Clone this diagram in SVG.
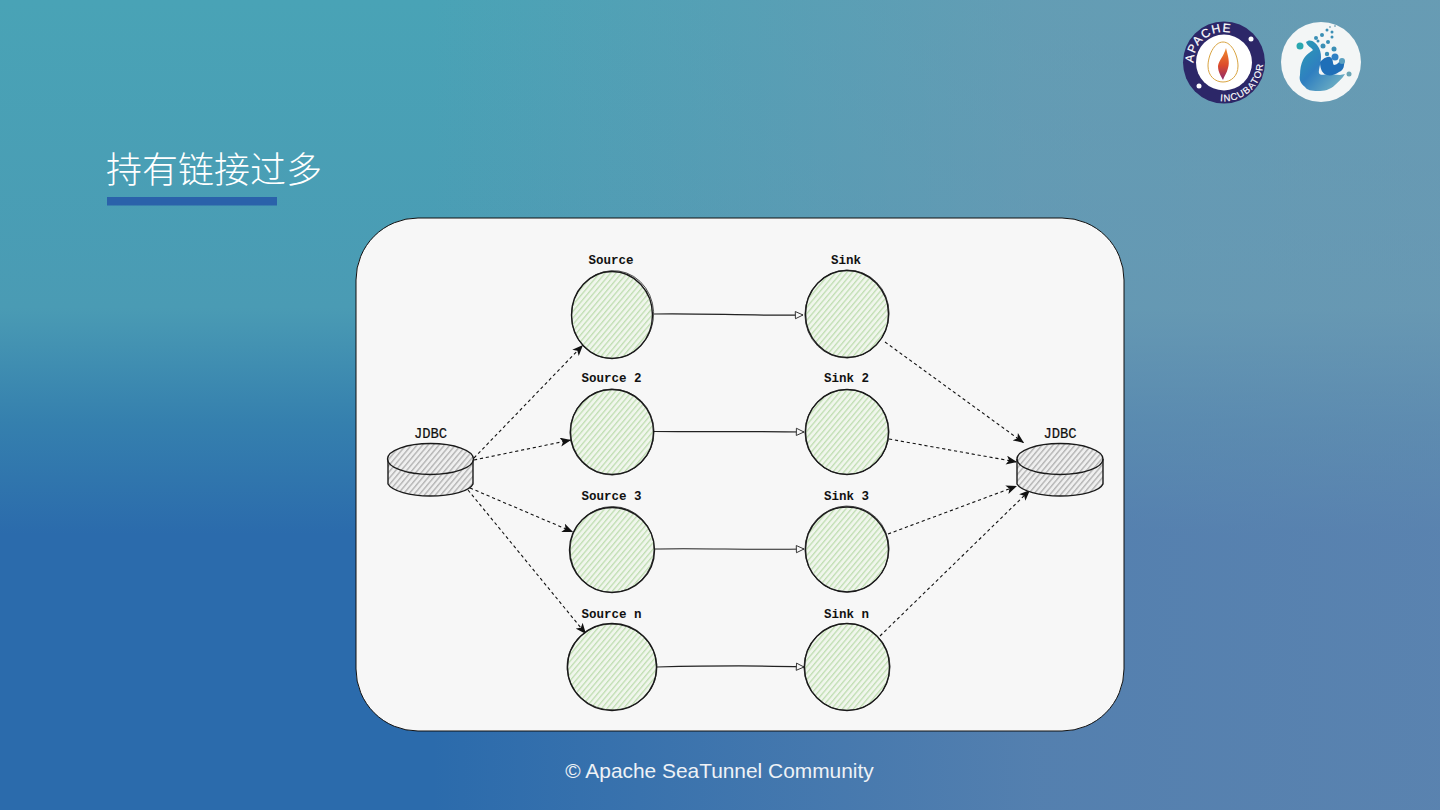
<svg xmlns="http://www.w3.org/2000/svg" width="1440" height="810" viewBox="0 0 1440 810">
<style>
.lbl{font-family:"Liberation Mono",monospace;font-size:12.5px;font-weight:700;fill:#111;text-anchor:middle}
.db{font-family:"Liberation Mono",monospace;font-size:13.800px;fill:#111;stroke:#111;stroke-width:.2;text-anchor:middle}
.o{fill:none;stroke:#1a1a1a;stroke-width:1.4}
.o2{fill:none;stroke:#1a1a1a;stroke-width:.7}
.g{fill:url(#green)}
.h{fill:url(#grey)}
.d{fill:none;stroke:#111;stroke-width:1.1;stroke-dasharray:3.2 2.8;marker-end:url(#solid)}
.s{fill:none;stroke:#222;stroke-width:1.2;marker-end:url(#open)}
</style>
<defs>
<linearGradient id="bgv" x1="0" y1="0" x2="0" y2="1">
<stop offset="0" stop-color="#49a3b6"/><stop offset=".38" stop-color="#4a9bb4"/><stop offset=".52" stop-color="#3580ae"/><stop offset=".66" stop-color="#2b6bac"/><stop offset="1" stop-color="#2b6bac"/>
</linearGradient>
<linearGradient id="bgh" x1="0" y1="0" x2="1" y2="0">
<stop offset=".3" stop-color="#8096b2" stop-opacity="0"/><stop offset=".72" stop-color="#8096b2" stop-opacity=".48"/><stop offset="1" stop-color="#8096b2" stop-opacity=".55"/>
</linearGradient>
<pattern id="green" width="4.200" height="4.200" patternUnits="userSpaceOnUse" patternTransform="rotate(-50)">
<rect width="4.200" height="4.200" fill="#f0f6ec"/><rect width="4.200" height="1.300" fill="#c0deb2"/>
</pattern>
<pattern id="grey" width="4.200" height="4.200" patternUnits="userSpaceOnUse" patternTransform="rotate(-50)">
<rect width="4.200" height="4.200" fill="#efefef"/><rect width="4.200" height="1.400" fill="#b4b4b4"/>
</pattern>
<marker id="solid" viewBox="0 0 12 10" markerWidth="11" markerHeight="9" refX="12" refY="5" orient="auto" markerUnits="userSpaceOnUse">
<path d="M0 0L12 5L0 10L3 5Z" fill="#111"/>
</marker>
<marker id="open" viewBox="0 0 10 10" markerWidth="9" markerHeight="9" refX="9.500" refY="5" orient="auto" markerUnits="userSpaceOnUse">
<path d="M1 1L9.500 5L1 9Z" fill="#f7f7f7" stroke="#222" stroke-width="1"/>
</marker>
<path id="arcTop" d="M1193.500 63A30.500 30.500 0 0 1 1240 36.500"/>
<path id="arcBot" d="M1220 101A38.500 38.500 0 0 0 1263 61"/>
<linearGradient id="fl" x1="0" y1="0" x2="0" y2="1"><stop offset="0" stop-color="#f08a2c"/><stop offset=".55" stop-color="#dc4a2c"/><stop offset="1" stop-color="#8e2a6e"/></linearGradient>
<linearGradient id="wave" x1="0" y1="0" x2="1" y2="1"><stop offset="0" stop-color="#2a9fb4"/><stop offset=".45" stop-color="#2f7fc0"/><stop offset="1" stop-color="#7fbcc4"/></linearGradient>
</defs>

<rect width="1440" height="810" fill="url(#bgv)"/>
<rect width="1440" height="810" fill="url(#bgh)"/>

<g id="logo-incubator">
<circle cx="1224" cy="62.500" r="41" fill="#2c2768"/>
<circle cx="1224" cy="62.500" r="28" fill="#fff"/>
<text font-family="'Liberation Sans',sans-serif" font-size="12" fill="#fff" stroke="#fff" stroke-width=".2" letter-spacing="1.200"><textPath href="#arcTop">APACHE</textPath></text>
<text font-family="'Liberation Sans',sans-serif" font-size="9.500" fill="#fff" stroke="#fff" stroke-width=".15" letter-spacing="1"><textPath href="#arcBot">INCUBATOR</textPath></text>
<circle cx="1251" cy="39" r="2.500" fill="#fff"/>
<circle cx="1199" cy="86" r="2.500" fill="#fff"/>
<path d="M1223 42C1214 42 1208 56 1208 66C1208 76 1215 82 1223 82C1231 82 1238 76 1238 66C1238 56 1232 42 1223 42Z" fill="none" stroke="#d9a441" stroke-width="1"/>
<path d="M1226 48C1228 56 1230 62 1228 68C1227 73 1224 76 1223 80C1221 76 1218 72 1218 66C1219 60 1224 56 1226 48Z" fill="url(#fl)"/>
</g>

<g id="logo-seatunnel">
<circle cx="1321" cy="62" r="40" fill="#f3f6f6"/>
<path d="M1306 42C1310 38 1316 42 1319 48C1323 56 1320 64 1319 70C1318 76 1322 75 1328 74L1340 75L1345 74C1342 79 1338 82 1335 85C1330 90 1324 91 1318 91C1311 91 1307 90 1305 87C1300 83 1299 79 1300 75C1300 69 1301 64 1303 60C1306 54 1311 52 1313 50C1311 47 1307 46 1306 42Z" fill="url(#wave)"/>
<path d="M1320 62C1323 59 1327 56 1330 57C1334 59 1332 63 1334 65C1337 65 1339 62 1341 60C1344 59 1345 62 1344 65C1344 68 1342 71 1339 72C1335 75 1330 76 1327 75C1323 74 1320 70 1320 62Z" fill="#1f6fb8"/>
<g fill="#3a8fb5">
<circle cx="1300" cy="46" r="3.500" fill="#2aa8b0"/><circle cx="1335" cy="57" r="3.500" fill="#2f80c4"/><circle cx="1334" cy="49" r="2.500"/><circle cx="1327" cy="54" r="2.200"/><circle cx="1323" cy="46" r="2.500"/><circle cx="1328" cy="42" r="2"/><circle cx="1322" cy="35" r="2"/><circle cx="1316" cy="38" r="2"/><circle cx="1327" cy="30" r="1.500"/><circle cx="1332" cy="32" r="1.500"/><circle cx="1332" cy="37" r="1.500"/><circle cx="1318" cy="41" r="1.500"/><circle cx="1335" cy="26" r="1" fill="#8ab0c0"/><circle cx="1330" cy="27" r="1" fill="#8ab0c0"/><circle cx="1349" cy="74" r="2.500" fill="#6aa5b5"/><circle cx="1342" cy="61" r="3" fill="#5aa0c0"/>
</g>
</g>

<text x="106" y="183" font-family="'Noto Sans CJK SC',sans-serif" font-size="36" font-weight="300" fill="#fff">持有链接过多</text>
<rect x="107" y="197" width="170" height="8.500" fill="#2a62aa"/>

<rect id="panel" x="356" y="218" width="768" height="513" rx="62" ry="62" fill="#f7f7f7" stroke="#111" stroke-width="1"/>

<g id="connectors">
<path class="s" d="M654 314C700 313 750 316 803 315"/>
<path class="s" d="M654 431.500C700 432 750 431 804 432"/>
<path class="s" d="M654 549C700 548 750 550 804 549"/>
<path class="s" d="M657 667C700 666 750 665 804 667"/>
<path class="d" d="M474 458L583 345"/>
<path class="d" d="M474 460L571 440"/>
<path class="d" d="M470 488L573 532"/>
<path class="d" d="M468 490L586 634"/>
<path class="d" d="M885 342L1024 443"/>
<path class="d" d="M889 439L1017 462"/>
<path class="d" d="M888 534L1017 486"/>
<path class="d" d="M880 636L1030 490"/>
</g>

<g id="node-source1"><ellipse class="g" cx="612" cy="315" rx="40" ry="43"/><ellipse class="o" cx="612" cy="315" rx="40.500" ry="43.500"/><ellipse class="o2" cx="612.500" cy="314.500" rx="41" ry="44" transform="rotate(8 612 315)"/><text class="lbl" x="611" y="264">Source</text></g>
<g id="node-source2"><ellipse class="g" cx="612" cy="432" rx="41" ry="42"/><ellipse class="o" cx="612" cy="432" rx="41.500" ry="42.500"/><ellipse class="o2" cx="612" cy="432" rx="42" ry="43" transform="rotate(10 612 432)"/><text class="lbl" x="611.500" y="382">Source 2</text></g>
<g id="node-source3"><ellipse class="g" cx="612" cy="550" rx="42" ry="42"/><ellipse class="o" cx="612" cy="550" rx="42.500" ry="42.500"/><ellipse class="o2" cx="612" cy="549.500" rx="42" ry="43" transform="rotate(12 612 550)"/><text class="lbl" x="611.500" y="500">Source 3</text></g>
<g id="node-sourcen"><ellipse class="g" cx="612" cy="667" rx="44" ry="43"/><ellipse class="o" cx="612" cy="667" rx="44.500" ry="43.500"/><ellipse class="o2" cx="612" cy="667" rx="45" ry="43" transform="rotate(8 612 667)"/><text class="lbl" x="611.500" y="618">Source n</text></g>

<g id="node-sink1"><ellipse class="g" cx="847" cy="314" rx="41" ry="43"/><ellipse class="o" cx="847" cy="314" rx="41.500" ry="43.500"/><ellipse class="o2" cx="847" cy="314" rx="42" ry="44" transform="rotate(10 847 314)"/><text class="lbl" x="846" y="264">Sink</text></g>
<g id="node-sink2"><ellipse class="g" cx="847" cy="432" rx="41" ry="42"/><ellipse class="o" cx="847" cy="432" rx="41.500" ry="42.500"/><ellipse class="o2" cx="847" cy="432" rx="42" ry="42.500" transform="rotate(10 847 432)"/><text class="lbl" x="846.500" y="382">Sink 2</text></g>
<g id="node-sink3"><ellipse class="g" cx="847" cy="549" rx="41" ry="42"/><ellipse class="o" cx="847" cy="549.500" rx="41.500" ry="42.500"/><ellipse class="o2" cx="847" cy="549" rx="42" ry="43" transform="rotate(10 847 549)"/><text class="lbl" x="846.500" y="500">Sink 3</text></g>
<g id="node-sinkn"><ellipse class="g" cx="847" cy="667" rx="42" ry="43"/><ellipse class="o" cx="847" cy="667" rx="42.500" ry="43.500"/><ellipse class="o2" cx="847" cy="667" rx="43" ry="43.500" transform="rotate(10 847 667)"/><text class="lbl" x="846.500" y="618">Sink n</text></g>

<g id="node-jdbc-in">
<path class="h" d="M388 459V484C392 491 410 496 430 496C452 496 470 491 473 484V459Z"/>
<path class="o" d="M388 459V484C392 491 410 496 430 496C452 496 470 491 473 484V459"/>
<ellipse class="h" cx="430.500" cy="459" rx="42.500" ry="15.500"/>
<ellipse class="o" cx="430.500" cy="459" rx="43" ry="15.500"/>
<text class="db" x="430.500" y="438">JDBC</text>
</g>
<g id="node-jdbc-out">
<path class="h" d="M1017 459V484C1021 491 1040 496 1060 496C1082 496 1100 491 1103 484V459Z"/>
<path class="o" d="M1017 459V484C1021 491 1040 496 1060 496C1082 496 1100 491 1103 484V459"/>
<ellipse class="h" cx="1060" cy="459" rx="42.500" ry="15.500"/>
<ellipse class="o" cx="1060" cy="459" rx="43" ry="15.500"/>
<text class="db" x="1060" y="438">JDBC</text>
</g>

<text x="719.500" y="778" font-family="'Liberation Sans',Arial,sans-serif" font-size="20.900" fill="#eef2f6" text-anchor="middle">© Apache SeaTunnel Community</text>
</svg>
